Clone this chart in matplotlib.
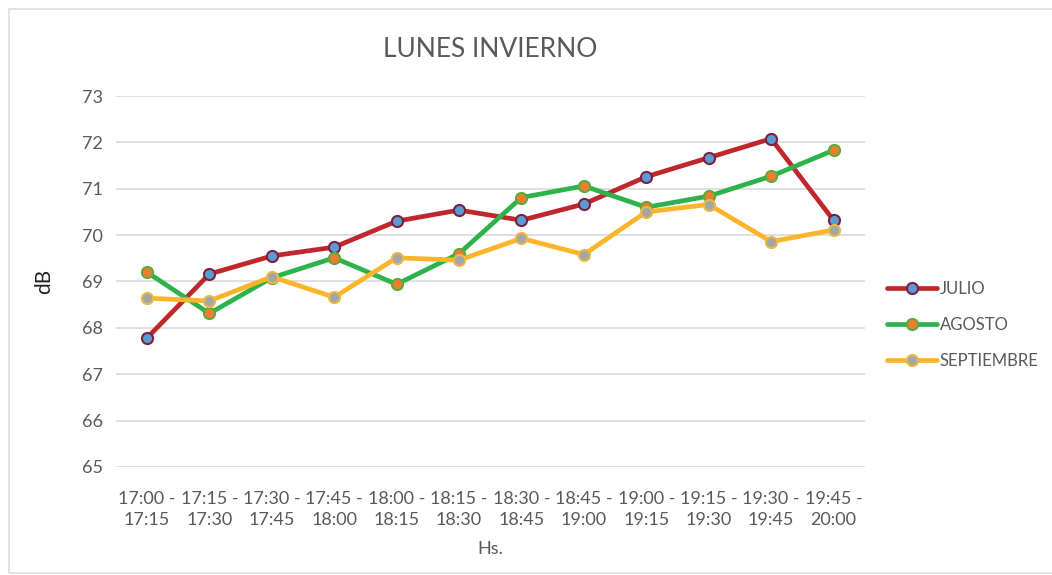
import matplotlib
matplotlib.use("Agg")
import matplotlib.pyplot as plt
from matplotlib.patches import Rectangle

categories = ["17:00 -\n17:15", "17:15 -\n17:30", "17:30 -\n17:45", "17:45 -\n18:00",
              "18:00 -\n18:15", "18:15 -\n18:30", "18:30 -\n18:45", "18:45 -\n19:00",
              "19:00 -\n19:15", "19:15 -\n19:30", "19:30 -\n19:45", "19:45 -\n20:00"]
julio = [67.78, 69.16, 69.55, 69.74, 70.30, 70.54, 70.32, 70.67, 71.26, 71.67, 72.08, 70.32]
agosto = [69.20, 68.31, 69.08, 69.51, 68.94, 69.60, 70.81, 71.06, 70.60, 70.84, 71.27, 71.83]
septiembre = [68.64, 68.58, 69.10, 68.66, 69.51, 69.46, 69.93, 69.58, 70.50, 70.66, 69.86, 70.11]
yticks = [65, 66, 67, 68, 69, 70, 71, 72, 73]

plt.rcParams['font.family'] = ['Lato', 'DejaVu Sans']
txt = '#595959'

fig = plt.figure(figsize=(10.52, 5.75), dpi=100)
ax = fig.add_axes([0.110, 0.188, 0.712, 0.645])

x = list(range(len(categories)))
series = [
    ("JULIO", julio, '#C0272D', '#5B9BD5', '#7A2040'),
    ("AGOSTO", agosto, '#2DB34A', '#ED7D31', '#5DAA3A'),
    ("SEPTIEMBRE", septiembre, '#FCB52A', '#A5A5A5', '#E8B84A'),
]
for name, vals, lc, mf, me in series:
    ax.plot(x, vals, color=lc, linewidth=3.4, marker='o', markersize=8,
            markerfacecolor=mf, markeredgecolor=me, markeredgewidth=1.5,
            label=name, solid_capstyle='round')

ax.set_ylim(65, 73)
ax.set_yticks(yticks)
ax.set_xlim(-0.5, len(categories) - 0.5)
ax.set_xticks(x)
ax.set_xticklabels(categories, linespacing=1.45)
ax.grid(axis='y', color='#D9D9D9', linewidth=1.2)
ax.set_axisbelow(True)
for s in ax.spines.values():
    s.set_visible(False)
ax.tick_params(length=0, colors=txt, labelsize=13)
ax.tick_params(axis='y', pad=9)
ax.tick_params(axis='x', pad=17)

ax.set_title("LUNES INVIERNO", fontsize=19, color=txt, pad=28)
ax.set_ylabel("dB", fontsize=15, color='#222222', labelpad=20)
ax.set_xlabel("Hs.", fontsize=13, color=txt, labelpad=9)

leg = ax.legend(loc='center left', bbox_to_anchor=(1.01, 0.383), frameon=False,
                fontsize=12, labelcolor=txt, handlelength=3.0, handletextpad=0.15,
                labelspacing=1.2)

fig.patches.append(Rectangle((9/1052, 2/575), 1.2, 1 - 11/575, transform=fig.transFigure,
                             fill=False, edgecolor='#E0DCDA', linewidth=1.2))

fig.savefig("out.png", dpi=100, facecolor='white')
